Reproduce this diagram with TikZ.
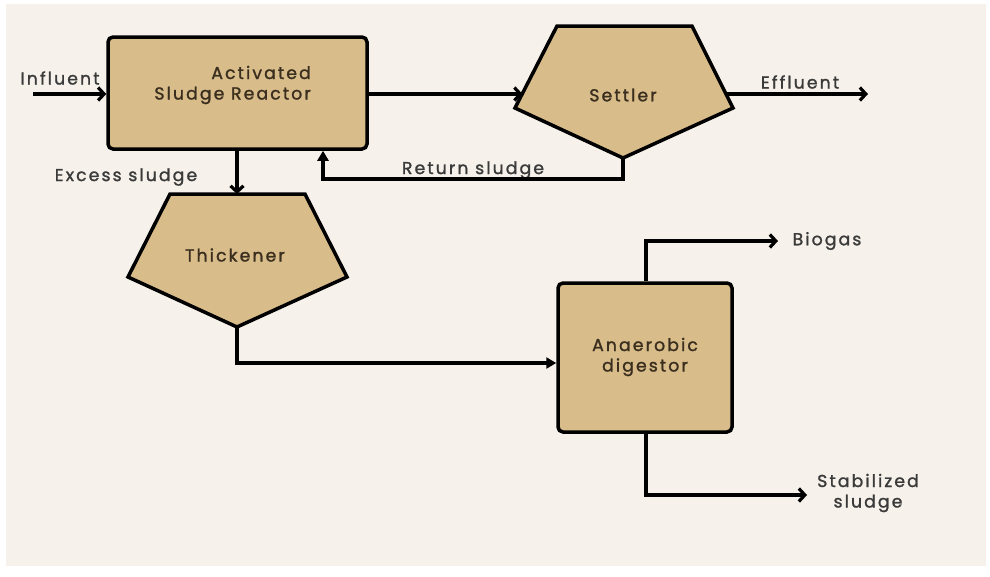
\documentclass[tikz,border=0pt]{standalone}
\usepackage{fontspec}
\setmainfont{Poppins}[LetterSpace=12, FakeBold=1.3]
\usetikzlibrary{arrows.meta}
\definecolor{bgcream}{HTML}{F6F2EB}
\definecolor{tan}{HTML}{D8BC8A}
\definecolor{labelgray}{HTML}{3A3A3A}
\definecolor{boxtext}{HTML}{3A2E1E}
\tikzset{
  unitbox/.style={draw=black, line width=3.5pt, fill=tan, rounded corners=5pt, inner sep=0pt},
  pentagonshape/.style={draw=black, line width=3.5pt, fill=tan, line join=miter},
  boxlabel/.style={text=boxtext, font=\fontsize{17.3}{20.5}\selectfont, align=center, inner sep=0pt},
  flowlabel/.style={text=labelgray, font=\fontsize{17.3}{20.5}\selectfont, align=center, inner sep=0pt},
  flow/.style={line width=3.2pt, draw=black},
  barb/.style={flow, -{Straight Barb[length=6pt,width=13pt,line width=3.2pt]}},
  tri/.style={flow, -{Triangle[length=10pt,width=11pt]}}
}
\begin{document}
\begin{tikzpicture}[x=1pt,y=-1pt]
\useasboundingbox (0,0) rectangle (990,576);
\fill[white] (0,0) rectangle (990,576);
\fill[bgcream] (6,4) rectangle (986,566);

% Activated sludge reactor
\node[unitbox, minimum width=259pt, minimum height=112pt] (reactor) at (237.5,93) {};
\node[boxlabel, align=right, anchor=east] (reactortext) at (311,85) {Activated\\Sludge Reactor};

% Settler
\coordinate (stl) at (557,26);
\coordinate (str) at (692,26);
\coordinate (sr) at (733,108);
\coordinate (sb) at (623,158);
\coordinate (sl) at (515,108);
\filldraw[pentagonshape] (stl) -- (str) -- (sr) -- (sb) -- (sl) -- cycle;
\node[boxlabel] (settler) at (623,95) {Settler};
\coordinate (setin) at (522.5,94);
\coordinate (setout) at (726,94);

% Thickener
\coordinate (ttl) at (170,194);
\coordinate (ttr) at (305,194);
\coordinate (tr) at (347,277);
\coordinate (tb) at (237,327);
\coordinate (tl) at (128,277);
\filldraw[pentagonshape] (ttl) -- (ttr) -- (tr) -- (tb) -- (tl) -- cycle;
\node[boxlabel] (thickener) at (235,255) {Thickener};
\coordinate (ttop) at (237,194);

% Anaerobic digestor
\node[unitbox, minimum width=174pt, minimum height=149pt] (digestor) at (645,357.5) {};
\node[boxlabel] (digestortext) at (645,357) {Anaerobic\\digestor};

% free ends
\coordinate (infl) at (33,94);
\coordinate (effl) at (868,94);
\coordinate (retcorner) at (623,179);
\coordinate (thkcorner) at (237,363);
\coordinate (gascorner) at (646,241);
\coordinate (gasend) at (778,241);
\coordinate (stabcorner) at (646,495);
\coordinate (stabend) at (807,495);

% labels
\node[flowlabel] (influent) at (60,78) {Influent};
\node[flowlabel] (effluent) at (800,82) {Effluent};
\node[flowlabel] (excess) at (126,177) {Excess sludge};
\node[flowlabel] (return) at (473,170) {Return sludge};
\node[flowlabel] (biogas) at (827,241) {Biogas};
\node[flowlabel] (stab) at (868,493) {Stabilized\\sludge};

% connectors
\draw[barb] (infl) -- (infl -| reactor.west);
\draw[barb] (reactor.east |- setin) -- (setin);
\draw[barb] (setout) -- (effl);
\draw[tri] (sb) -- (retcorner) -- (retcorner -| 323,0) -- (323,0 |- reactor.south);
\draw[barb] (reactor.south -| ttop) -- (ttop);
\draw[tri] (tb) -- (thkcorner) -- (thkcorner -| digestor.west);
\draw[barb] (digestor.north -| gascorner) -- (gascorner) -- (gasend);
\draw[barb] (digestor.south -| stabcorner) -- (stabcorner) -- (stabend);
\end{tikzpicture}
\end{document}
